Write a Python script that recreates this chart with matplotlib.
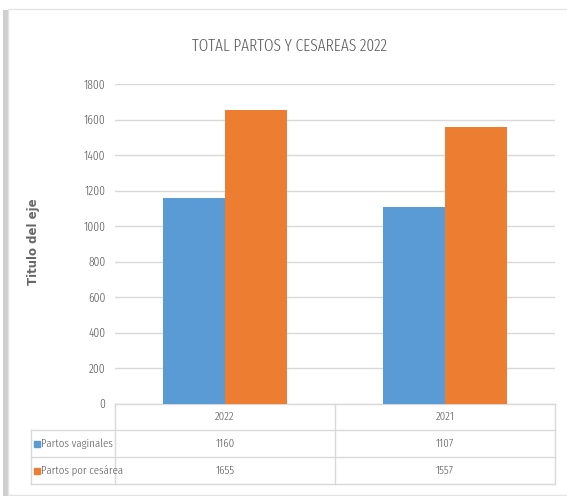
import matplotlib.pyplot as plt
from matplotlib.patches import Rectangle

# data
years = ["2022", "2021"]
series_names = ["Partos vaginales", "Partos por cesárea"]
vaginales = [1160, 1107]
cesareas = [1655, 1557]
series_values = [vaginales, cesareas]
series_colors = ["#5B9BD5", "#ED7D31"]
y_ticks = [0, 200, 400, 600, 800, 1000, 1200, 1400, 1600, 1800]

W, H = 567, 496
narrow = ["Fira Sans Extra Condensed", "DejaVu Sans"]
txt_color = "#595959"
grid_color = "#D9D9D9"

fig = plt.figure(figsize=(W / 100, H / 100), dpi=100)

# chart frame with a soft shadow on the left
fig.patches.append(Rectangle((3 / W, 0), 5 / W, 1 - 10 / H, transform=fig.transFigure,
                             facecolor="#cfcfcf", edgecolor="none", zorder=0))
fig.patches.append(Rectangle((8 / W, 1 / H), 1.2, 1 - 10 / H, transform=fig.transFigure,
                             facecolor="white", edgecolor="#e3e3e3", lw=1, zorder=0))

ax = fig.add_axes([115 / W, 1 - 403.5 / H, 440 / W, 319.5 / H])
ax.set_zorder(2)
ax.set_facecolor("none")

bar_w = 0.283
for i, (vals, col) in enumerate(zip(series_values, series_colors)):
    xs = [k + (i - 0.5) * bar_w for k in range(len(years))]
    ax.bar(xs, vals, width=bar_w, color=col, zorder=3)

ax.set_xlim(-0.5, len(years) - 0.5)
ax.set_ylim(0, 1800)
ax.set_yticks(y_ticks)
ax.set_yticklabels([str(t) for t in y_ticks], family=narrow, fontweight=300,
                   fontsize=9, color=txt_color)
ax.set_xticks([])
ax.tick_params(axis="y", length=0, pad=7)
ax.grid(axis="y", color=grid_color, lw=1, zorder=0)
for s in ax.spines.values():
    s.set_visible(False)

# data table below the plot area
tr = ax.get_xaxis_transform()
row_y = [0, -0.083, -0.1675, -0.252]
left_x = -0.191
border = dict(color=grid_color, lw=1, clip_on=False, transform=ax.transAxes)
ax.plot([0, 1], [row_y[0], row_y[0]], **border)
for y in row_y[1:]:
    ax.plot([left_x, 1], [y, y], **border)
ax.plot([left_x, left_x], [row_y[1], row_y[-1]], **border)
for x in [0, 0.5, 1]:
    ax.plot([x, x], [row_y[0], row_y[-1]], **border)


def mid(r):
    return (row_y[r] + row_y[r + 1]) / 2


cell_font = dict(family=narrow, fontweight=300, fontsize=8.5, color=txt_color)
for k, yr in enumerate(years):
    ax.text(k, mid(0), yr, transform=tr, ha="center", va="center", **cell_font)
for i, (name, vals, col) in enumerate(zip(series_names, series_values, series_colors)):
    ym = mid(i + 1)
    ax.plot([left_x + 0.013], [ym], marker="s", ms=4.5, color=col, clip_on=False,
            transform=ax.transAxes)
    ax.text(left_x + 0.023, ym, name, transform=ax.transAxes, ha="left", va="center",
            **cell_font)
    for k, v in enumerate(vals):
        ax.text(k, ym, str(v), transform=tr, ha="center", va="center", **cell_font)

fig.text(290 / W, 1 - 46 / H, "TOTAL PARTOS Y CESAREAS 2022", ha="center", va="center",
         family=narrow, fontweight=300, fontsize=12, color=txt_color)
fig.text(33 / W, 1 - 242 / H, "Titulo del eje", rotation=90, ha="center", va="center",
         fontsize=8.5, fontweight="bold", color="#666666")

fig.savefig("out.png", dpi=100)
